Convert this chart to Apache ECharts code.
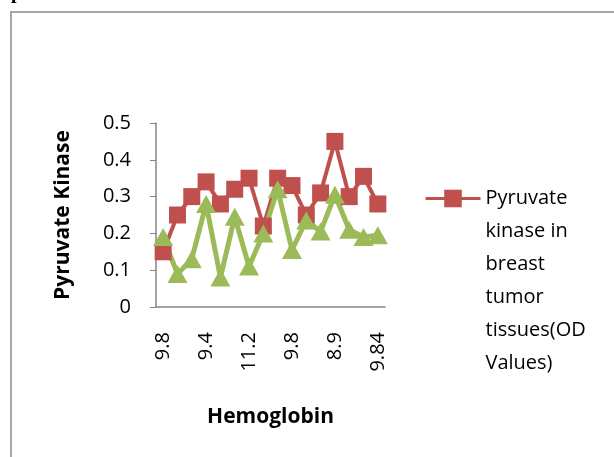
<!DOCTYPE html>
<html>
<head>
<meta charset="utf-8">
<script src="https://cdn.jsdelivr.net/npm/echarts@6/dist/echarts.min.js"></script>
<style>
  html, body { margin: 0; padding: 0; background: #fff; }
  #chart { width: 614px; height: 457px; }
</style>
</head>
<body>
<div id="chart"></div>
<script>
// hemoglobin categories (only every third label is readable in the picture)
const hemoglobin = ['9.8', '10.2', '11.6', '9.4', '10.8', '12.1', '11.2', '10.4', '9.6', '9.8', '10.6', '11.4', '8.9', '10.1', '11.0', '9.84']
const redName = 'Pyruvate kinase in breast tumor tissues(OD Values)'
const redValues = [0.15, 0.25, 0.30, 0.34, 0.28, 0.32, 0.35, 0.22, 0.35, 0.33, 0.25, 0.31, 0.45, 0.30, 0.355, 0.28]
const greenName = 'Hemoglobin series'
const greenValues = [0.19, 0.09, 0.13, 0.28, 0.08, 0.245, 0.11, 0.20, 0.32, 0.155, 0.235, 0.205, 0.305, 0.21, 0.19, 0.195]
// legend text wraps like the original; leading blank lines keep the icon on the first line
const legendLines = ['', '', '', '', '', 'Pyruvate', 'kinase in', 'breast', 'tumor', 'tissues(OD', 'Values)']

const font = 'Open Sans'
const chart = echarts.init(document.getElementById('chart'))
chart.setOption({
  animation: false,
  graphic: [
    {
      type: 'rect',
      shape: { x: 11, y: 12, width: 700, height: 500 },
      style: { fill: 'none', stroke: '#a6a6a6', lineWidth: 2 }
    },
    {
      type: 'text',
      left: 11,
      top: -17,
      style: { text: 'p', font: 'bold 20px "Liberation Serif"', fill: '#000' }
    }
  ],
  grid: { left: 156, right: 229, top: 123, bottom: 150 },
  legend: {
    data: [redName],
    left: 424,
    top: 17,
    padding: 0,
    itemWidth: 55,
    itemHeight: 22,
    lineStyle: { width: 3 },
    formatter: () => legendLines.join('\n'),
    textStyle: {
      fontFamily: font,
      fontSize: 20,
      color: '#000',
      lineHeight: 33
    }
  },
  xAxis: {
    type: 'category',
    data: hemoglobin,
    name: 'Hemoglobin',
    nameLocation: 'middle',
    nameGap: 100,
    nameTextStyle: { fontFamily: font, fontSize: 21, fontWeight: 'bold', color: '#000' },
    axisLine: { lineStyle: { color: '#868686', width: 1.5 } },
    axisTick: { interval: 0, length: 6, lineStyle: { color: '#868686' } },
    axisLabel: {
      interval: 2,
      rotate: 90,
      margin: 25,
      fontFamily: font,
      fontSize: 20,
      color: '#000'
    }
  },
  yAxis: {
    type: 'value',
    min: 0,
    max: 0.5,
    interval: 0.1,
    name: 'Pyruvate Kinase',
    nameLocation: 'middle',
    nameGap: 82,
    nameTextStyle: { fontFamily: font, fontSize: 21, fontWeight: 'bold', color: '#000' },
    splitLine: { show: false },
    axisLine: { show: true, lineStyle: { color: '#868686', width: 1.5 } },
    axisTick: { show: true, length: 6, lineStyle: { color: '#868686' } },
    axisLabel: {
      margin: 25,
      fontFamily: font,
      fontSize: 20,
      color: '#000',
      formatter: v => (v === 0 ? '0' : v.toFixed(1))
    }
  },
  series: [
    {
      name: redName,
      type: 'line',
      data: redValues,
      showAllSymbol: true,
      symbol: 'rect',
      symbolSize: 17,
      lineStyle: { color: '#c0504d', width: 4 },
      itemStyle: { color: '#c0504d' }
    },
    {
      name: greenName,
      type: 'line',
      data: greenValues,
      showAllSymbol: true,
      symbol: 'triangle',
      symbolSize: [20, 18],
      lineStyle: { color: '#9bbb59', width: 5 },
      itemStyle: { color: '#9bbb59' }
    }
  ]
})
</script>
</body>
</html>
